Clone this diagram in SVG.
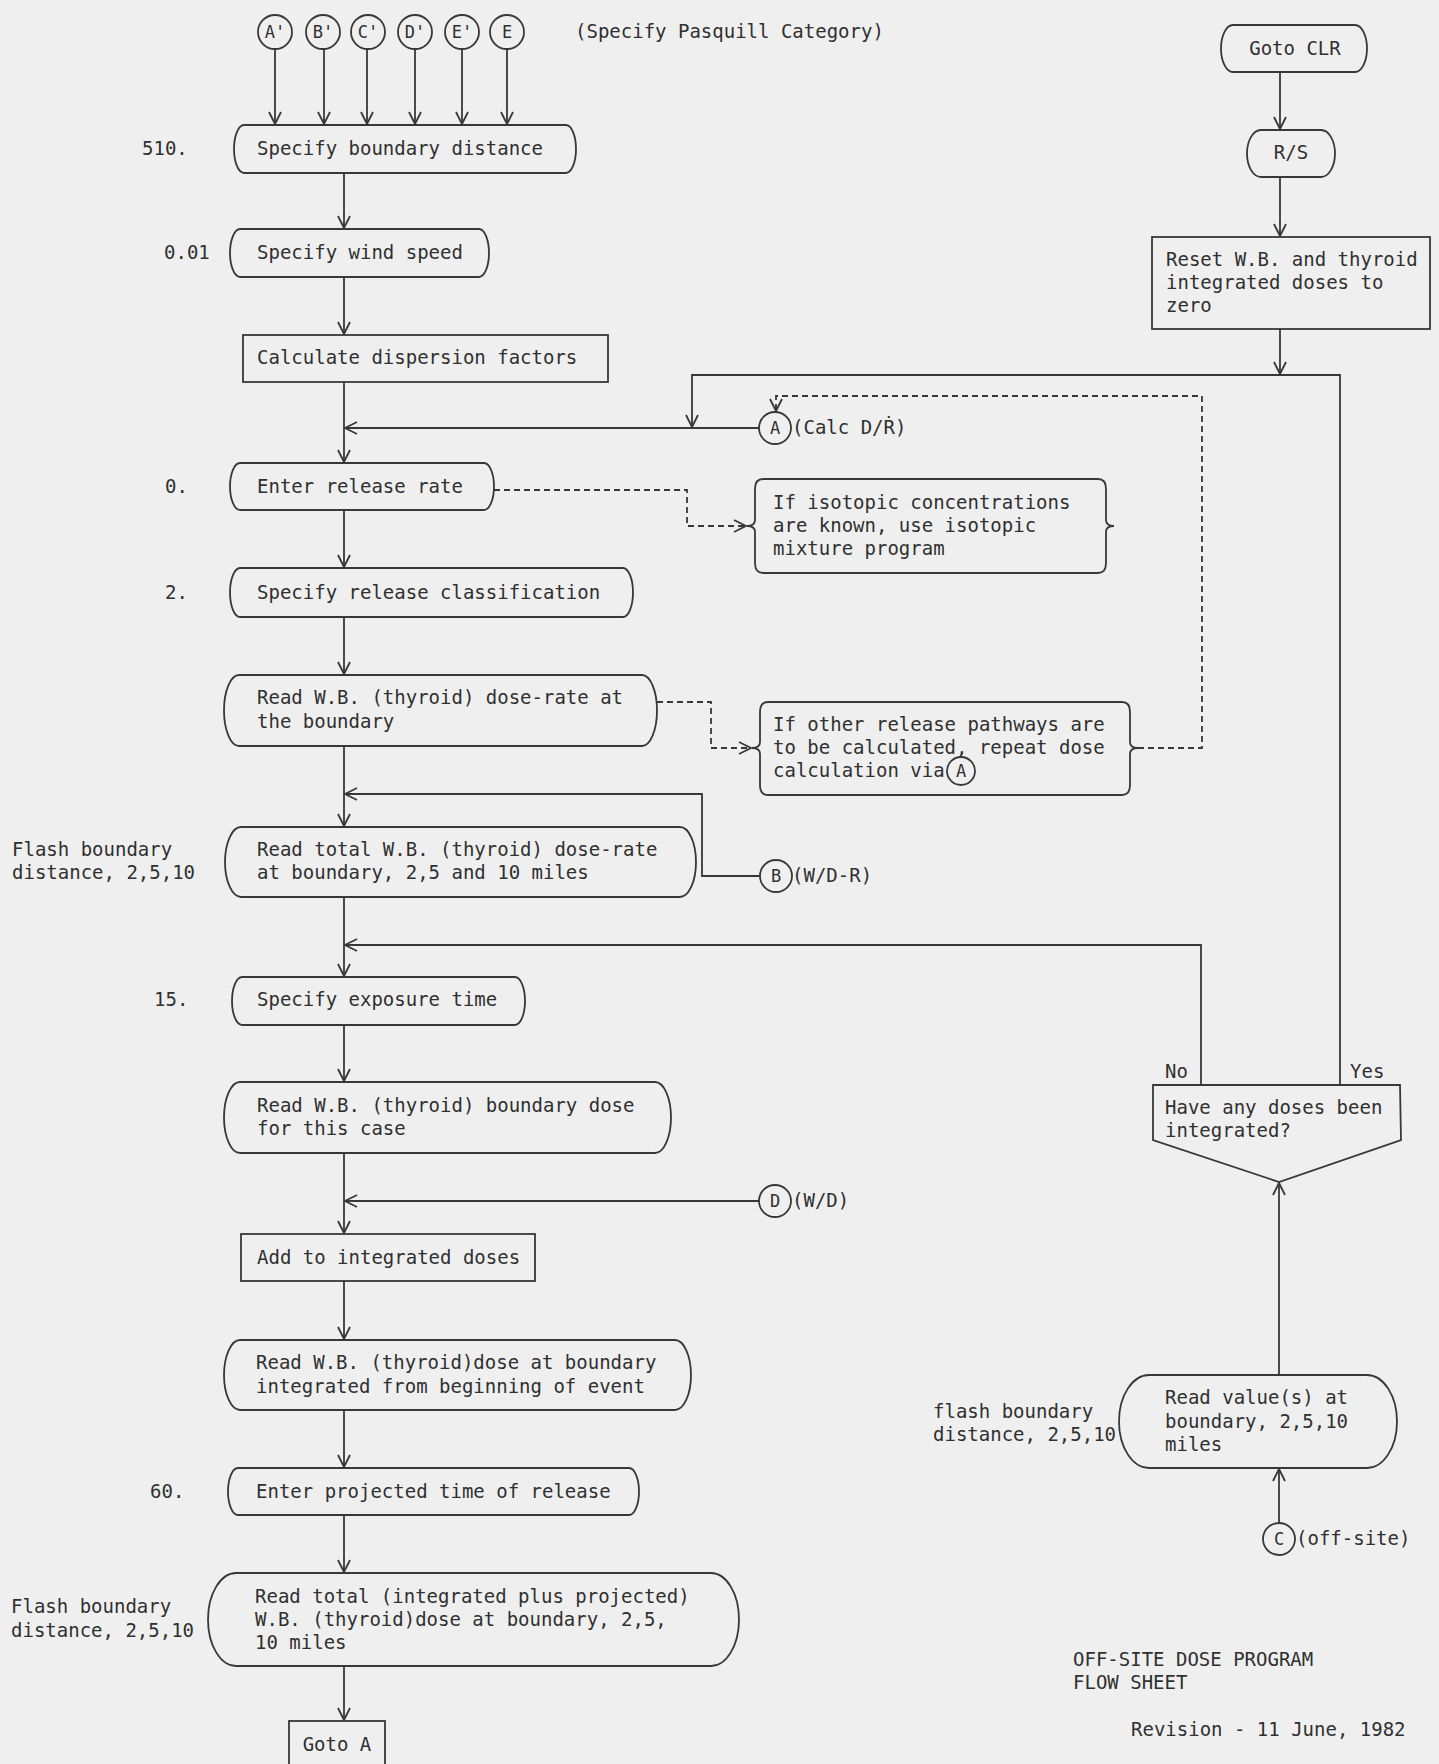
<svg xmlns="http://www.w3.org/2000/svg" width="1439" height="1764" viewBox="0 0 1439 1764">
<style>
.s{fill:none;stroke:#383838;stroke-width:1.8}
.d{fill:none;stroke:#383838;stroke-width:1.8;stroke-dasharray:6 4}
.t{font-family:"DejaVu Sans Mono","Liberation Mono",monospace;font-size:19px;fill:#303030}
.c{font-family:"DejaVu Sans Mono","Liberation Mono",monospace;font-size:17px;fill:#303030;text-anchor:middle}
.m{text-anchor:middle}
</style>
<defs>
<marker id="ar" markerUnits="userSpaceOnUse" markerWidth="14" markerHeight="14" viewBox="0 0 14 14" refX="13" refY="7" orient="auto">
<path d="M1,1 L13,7 L1,13" fill="none" stroke="#383838" stroke-width="1.8"/>
</marker>
</defs>
<rect x="0" y="0" width="1439" height="1764" fill="#efefef"/>

<g id="connectors">
<path class="s" d="M275,49 V124" marker-end="url(#ar)"/>
<path class="s" d="M324,49 V124" marker-end="url(#ar)"/>
<path class="s" d="M367,49 V124" marker-end="url(#ar)"/>
<path class="s" d="M415,49 V124" marker-end="url(#ar)"/>
<path class="s" d="M462,49 V124" marker-end="url(#ar)"/>
<path class="s" d="M507,49 V124" marker-end="url(#ar)"/>
<path class="s" d="M344,173 V228" marker-end="url(#ar)"/>
<path class="s" d="M344,277 V334" marker-end="url(#ar)"/>
<path class="s" d="M344,382 V462" marker-end="url(#ar)"/>
<path class="s" d="M759,428 H345" marker-end="url(#ar)"/>
<path class="s" d="M1340,1085 V375 H692 V427" marker-end="url(#ar)"/>
<path class="s" d="M1280,72 V129" marker-end="url(#ar)"/>
<path class="s" d="M1280,177 V236" marker-end="url(#ar)"/>
<path class="s" d="M1280,329 V374" marker-end="url(#ar)"/>
<path class="d" d="M494,490 H687 V526 H746" marker-end="url(#ar)"/>
<path class="s" d="M344,510 V567" marker-end="url(#ar)"/>
<path class="s" d="M344,617 V674" marker-end="url(#ar)"/>
<path class="d" d="M657,702 H711 V748 H751" marker-end="url(#ar)"/>
<path class="d" d="M1138,748 H1202 V396 H776 V411" marker-end="url(#ar)"/>
<path class="s" d="M344,746 V826" marker-end="url(#ar)"/>
<path class="s" d="M760,876 H702 V794 H345" marker-end="url(#ar)"/>
<path class="s" d="M344,897 V976" marker-end="url(#ar)"/>
<path class="s" d="M1201,1085 V945 H345" marker-end="url(#ar)"/>
<path class="s" d="M344,1025 V1081" marker-end="url(#ar)"/>
<path class="s" d="M344,1153 V1233" marker-end="url(#ar)"/>
<path class="s" d="M759,1201 H345" marker-end="url(#ar)"/>
<path class="s" d="M344,1281 V1339" marker-end="url(#ar)"/>
<path class="s" d="M344,1410 V1467" marker-end="url(#ar)"/>
<path class="s" d="M344,1515 V1572" marker-end="url(#ar)"/>
<path class="s" d="M344,1666 V1720" marker-end="url(#ar)"/>
<path class="s" d="M1279,1375 V1183" marker-end="url(#ar)"/>
<path class="s" d="M1279,1523 V1469" marker-end="url(#ar)"/>
</g>

<g id="conn-top">
<circle class="s" cx="275" cy="32" r="17"/><text class="c" x="275" y="38">A'</text>
<circle class="s" cx="323" cy="32" r="17"/><text class="c" x="323" y="38">B'</text>
<circle class="s" cx="368" cy="32" r="17"/><text class="c" x="368" y="38">C'</text>
<circle class="s" cx="415" cy="32" r="17"/><text class="c" x="415" y="38">D'</text>
<circle class="s" cx="462" cy="32" r="17"/><text class="c" x="462" y="38">E'</text>
<circle class="s" cx="507" cy="32" r="17"/><text class="c" x="507" y="38">E</text>
<text class="t" x="575" y="38">(Specify Pasquill Category)</text>
</g>

<g id="n1">
<path class="s" d="M244,125 H566 A10,24 0 0 1 566,173 H244 A10,24 0 0 1 244,125Z"/>
<text class="t" x="257" y="155">Specify boundary distance</text>
<text class="t" x="142" y="155">510.</text>
</g>
<g id="n2">
<path class="s" d="M240,229 H479 A10,24 0 0 1 479,277 H240 A10,24 0 0 1 240,229Z"/>
<text class="t" x="257" y="259">Specify wind speed</text>
<text class="t" x="164" y="259">0.01</text>
</g>
<g id="n3">
<rect class="s" x="243" y="335" width="365" height="47"/>
<text class="t" x="257" y="364">Calculate dispersion factors</text>
</g>
<g id="connA">
<circle class="s" cx="775" cy="428" r="16"/><text class="c" x="775" y="434">A</text>
<text class="t" x="792" y="434">(Calc D/Ṙ)</text>
</g>
<g id="n4">
<path class="s" d="M240,463 H484 A10,23.5 0 0 1 484,510 H240 A10,23.5 0 0 1 240,463Z"/>
<text class="t" x="257" y="493">Enter release rate</text>
<text class="t" x="165" y="493">0.</text>
</g>
<g id="note1">
<path class="s" d="M763,479 H1098 Q1106,479 1106,489 V520 Q1106,526 1114,526 Q1106,526 1106,532 V563 Q1106,573 1098,573 H763 Q755,573 755,563 V532 Q755,526 747,526 Q755,526 755,520 V489 Q755,479 763,479 Z"/>
<text class="t" x="773" y="509">If isotopic concentrations</text>
<text class="t" x="773" y="532">are known, use isotopic</text>
<text class="t" x="773" y="555">mixture program</text>
</g>
<g id="n5">
<path class="s" d="M240,568 H623 A10,24.5 0 0 1 623,617 H240 A10,24.5 0 0 1 240,568Z"/>
<text class="t" x="257" y="599">Specify release classification</text>
<text class="t" x="165" y="599">2.</text>
</g>
<g id="n6">
<path class="s" d="M239,675 H642 A15,35.5 0 0 1 642,746 H239 A15,35.5 0 0 1 239,675Z"/>
<text class="t" x="257" y="704">Read W.B. (thyroid) dose-rate at</text>
<text class="t" x="257" y="728">the boundary</text>
</g>
<g id="note2">
<path class="s" d="M768,702 H1122 Q1130,702 1130,712 V742 Q1130,748 1138,748 Q1130,748 1130,754 V785 Q1130,795 1122,795 H768 Q760,795 760,785 V754 Q760,748 752,748 Q760,748 760,742 V712 Q760,702 768,702 Z"/>
<text class="t" x="773" y="731">If other release pathways are</text>
<text class="t" x="773" y="754">to be calculated, repeat dose</text>
<text class="t" x="773" y="777">calculation via</text>
<circle class="s" cx="961" cy="771" r="14"/><text class="c" x="961" y="777">A</text>
</g>
<g id="n7">
<path class="s" d="M241,827 H680 A16,35 0 0 1 680,897 H241 A16,35 0 0 1 241,827Z"/>
<text class="t" x="257" y="856">Read total W.B. (thyroid) dose-rate</text>
<text class="t" x="257" y="879">at boundary, 2,5 and 10 miles</text>
<text class="t" x="12" y="856">Flash boundary</text>
<text class="t" x="12" y="879">distance, 2,5,10</text>
</g>
<g id="connB">
<circle class="s" cx="776" cy="876" r="16"/><text class="c" x="776" y="882">B</text>
<text class="t" x="792" y="882">(W/D-R)</text>
</g>
<g id="n8">
<path class="s" d="M242,977 H515 A10,24 0 0 1 515,1025 H242 A10,24 0 0 1 242,977Z"/>
<text class="t" x="257" y="1006">Specify exposure time</text>
<text class="t" x="154" y="1006">15.</text>
</g>
<g id="n9">
<path class="s" d="M240,1082 H655 A16,35.5 0 0 1 655,1153 H240 A16,35.5 0 0 1 240,1082Z"/>
<text class="t" x="257" y="1112">Read W.B. (thyroid) boundary dose</text>
<text class="t" x="257" y="1135">for this case</text>
</g>
<g id="connD">
<circle class="s" cx="775" cy="1201" r="16"/><text class="c" x="775" y="1207">D</text>
<text class="t" x="792" y="1207">(W/D)</text>
</g>
<g id="n10">
<rect class="s" x="241" y="1234" width="294" height="47"/>
<text class="t" x="257" y="1264">Add to integrated doses</text>
</g>
<g id="n11">
<path class="s" d="M240,1340 H675 A16,35 0 0 1 675,1410 H240 A16,35 0 0 1 240,1340Z"/>
<text class="t" x="256" y="1369">Read W.B. (thyroid)dose at boundary</text>
<text class="t" x="256" y="1393">integrated from beginning of event</text>
</g>
<g id="n12">
<path class="s" d="M238,1468 H629 A10,23.5 0 0 1 629,1515 H238 A10,23.5 0 0 1 238,1468Z"/>
<text class="t" x="256" y="1498">Enter projected time of release</text>
<text class="t" x="150" y="1498">60.</text>
</g>
<g id="n13">
<path class="s" d="M236,1573 H711 A28,46.5 0 0 1 711,1666 H236 A28,46.5 0 0 1 236,1573Z"/>
<text class="t" x="255" y="1603">Read total (integrated plus projected)</text>
<text class="t" x="255" y="1626">W.B. (thyroid)dose at boundary, 2,5,</text>
<text class="t" x="255" y="1649">10 miles</text>
<text class="t" x="11" y="1613">Flash boundary</text>
<text class="t" x="11" y="1637">distance, 2,5,10</text>
</g>
<g id="n14">
<rect class="s" x="289" y="1721" width="96" height="60"/>
<text class="t m" x="337" y="1751">Goto A</text>
</g>

<g id="r1">
<path class="s" d="M1233,25 H1355 A12,23.5 0 0 1 1355,72 H1233 A12,23.5 0 0 1 1233,25Z"/>
<text class="t m" x="1295" y="55">Goto CLR</text>
</g>
<g id="r2">
<path class="s" d="M1261,130 H1321 A14,23.5 0 0 1 1321,177 H1261 A14,23.5 0 0 1 1261,130Z"/>
<text class="t m" x="1291" y="159">R/S</text>
</g>
<g id="r3">
<rect class="s" x="1152" y="237" width="278" height="92"/>
<text class="t" x="1166" y="266">Reset W.B. and thyroid</text>
<text class="t" x="1166" y="289">integrated doses to</text>
<text class="t" x="1166" y="312">zero</text>
</g>
<g id="decision">
<polygon class="s" points="1153,1085 1400,1085 1401,1140 1279,1182 1153,1140"/>
<text class="t" x="1165" y="1114">Have any doses been</text>
<text class="t" x="1165" y="1137">integrated?</text>
<text class="t" x="1165" y="1078">No</text>
<text class="t" x="1350" y="1078">Yes</text>
</g>
<g id="r4">
<path class="s" d="M1149,1375 H1367 A30,46.5 0 0 1 1367,1468 H1149 A30,46.5 0 0 1 1149,1375Z"/>
<text class="t" x="1165" y="1404">Read value(s) at</text>
<text class="t" x="1165" y="1428">boundary, 2,5,10</text>
<text class="t" x="1165" y="1451">miles</text>
<text class="t" x="933" y="1418">flash boundary</text>
<text class="t" x="933" y="1441">distance, 2,5,10</text>
</g>
<g id="connC">
<circle class="s" cx="1279" cy="1539" r="16"/><text class="c" x="1279" y="1545">C</text>
<text class="t" x="1296" y="1545">(off-site)</text>
</g>
<g id="footer">
<text class="t" x="1073" y="1666">OFF-SITE DOSE PROGRAM</text>
<text class="t" x="1073" y="1689">FLOW SHEET</text>
<text class="t" x="1131" y="1736">Revision - 11 June, 1982</text>
</g>
</svg>
